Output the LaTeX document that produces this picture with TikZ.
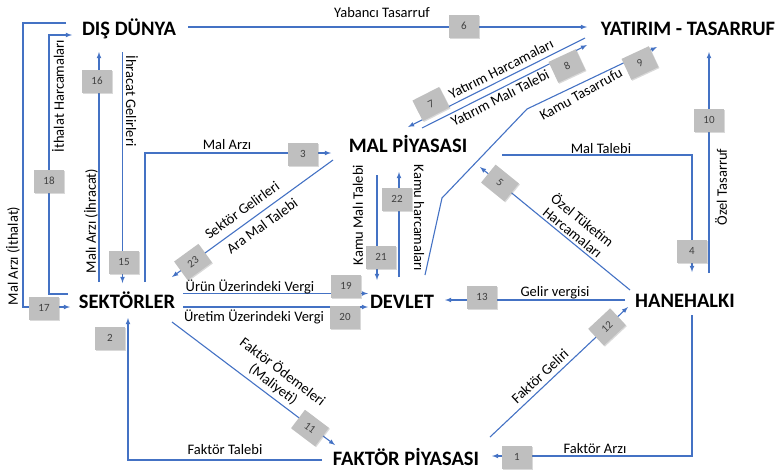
\documentclass[tikz,border=0pt]{standalone}
\usepackage{fontspec}
\setmainfont{Carlito}
\usetikzlibrary{shadows}

\definecolor{mavi}{HTML}{4472C4}

\begin{document}
\begin{tikzpicture}[x=1pt, y=-1pt,
		baslik/.style={anchor=base, inner sep=0pt, font=\fontsize{20.5}{24}\selectfont\bfseries},
		etiket/.style={inner sep=0pt, font=\fontsize{14.5}{15.5}\selectfont},
		kutu/.style={fill=gray!50, minimum width=30pt, minimum height=23pt, inner sep=0pt, text=black!75,
			font=\fontsize{11}{12}\selectfont, drop shadow={opacity=0.3, shadow xshift=1pt, shadow yshift=-1pt}},
		ok/.style={draw=mavi, line width=1.1pt, -latex}]
		
		\useasboundingbox (0,0) rectangle (779,472);
		
		\node (dis) at (129,35) [baslik] {DIŞ DÜNYA};
		\node (yat) at (688,35) [baslik] {YATIRIM - TASARRUF};
		\node (mal) at (408,152) [baslik] {MAL PİYASASI};
		\node (sek) at (127,308) [baslik] {SEKTÖRLER};
		\node (dev) at (402,308) [baslik] {DEVLET};
		\node (hane) at (685,307) [baslik] {HANEHALKI};
		\node (fak) at (406,465) [baslik] {FAKTÖR PİYASASI};
		
		\foreach \n/\xa/\ya/\xb/\yb in {1/692/315/492/456, 2/322/460/128/318, 3/145/282/331/153, 4/502/155/692/272,
			5/630/290/480/167, 6/188/27/587/27, 7/585/38/408/127, 8/422/128/587/45, 9/425/275/657/47,
			10/709/273/709/52, 11/172/322/335/445, 12/490/437/628/307, 13/625/300/445/300,
			15/122.5/52/122.5/283, 16/99/282/99/52, 17/66/23/70/307, 18/68/294/72/35,
			19/183/293.5/368/293.5, 20/183/307/368/307, 21/377/175/377/280, 22/399/277/399/172, 23/333/160/172/277} {
			\coordinate (a\n) at (\xa,\ya);
			\coordinate (b\n) at (\xb,\yb);
		}
		\coordinate (k17) at (23,307);
		\coordinate (k18) at (49,35);
		\coordinate (k9a) at (442,198);
		\coordinate (k9b) at (527,109);
		
		\draw[ok] (a1) |- (b1);
		\draw[ok] (a2) -| (b2);
		\draw[ok] (a3) |- (b3);
		\draw[ok] (a4) -| (b4);
		\foreach \n in {5,6,7,8,10,11,12,13,15,16,19,20,21,22,23} {
			\draw[ok] (a\n) -- (b\n);
		}
		\draw[ok] (a9) -- (k9a) -- (k9b) -- (b9);
		\draw[ok] (a17) -| (k17) -- (b17);
		\draw[ok] (a18) -| (k18) -- (b18);
		
		\node (l6) at (382,17.5) [etiket, anchor=base] {Yabancı Tasarruf};
		\node (l3) at (227,149) [etiket, anchor=base] {Mal Arzı};
		\node (l4) at (601,153) [etiket, anchor=base] {Mal Talebi};
		\node (l19) at (250,291) [etiket, anchor=base] {Ürün Üzerindeki Vergi};
		\node (l20) at (254,321) [etiket, anchor=base] {Üretim Üzerindeki Vergi};
		\node (l13) at (555,296) [etiket, anchor=base] {Gelir vergisi};
		\node (l2) at (225,454) [etiket, anchor=base] {Faktör Talebi};
		\node (l1) at (595,453) [etiket, anchor=base] {Faktör Arzı};
		
		\node (l17) at (13,256) [etiket, rotate=90] {Mal Arzı (İthalat)};
		\node (l18) at (58,96) [etiket, rotate=90] {İthalat Harcamaları};
		\node (l16) at (91,221) [etiket, rotate=90] {Malı Arzı (İhracat)};
		\node (l15) at (132,101) [etiket, rotate=-90] {İhracat Gelirleri};
		\node (l21) at (358,215) [etiket, rotate=90] {Kamu Malı Talebi};
		\node (l22) at (419,218) [etiket, rotate=-90] {Kamu harcamaları};
		\node (l10) at (721,187) [etiket, rotate=90] {Özel Tasarruf};
		
		\node (l23a) at (242,210) [etiket, rotate=36] {Sektör Gelirleri};
		\node (l23b) at (262,226) [etiket, rotate=36] {Ara Mal Talebi};
		\node (l7) at (501,69) [etiket, rotate=27] {Yatırım Harcamaları};
		\node (l8) at (500,98) [etiket, rotate=27] {Yatırım Malı Talebi};
		\node (l9) at (581,94) [etiket, rotate=29] {Kamu Tasarrufu};
		\node (l5) at (578,226) [etiket, rotate=-39, align=center] {Özel Tüketim\\Harcamaları};
		\node (l11) at (278,378) [etiket, rotate=-37, align=center] {Faktör Ödemeleri\\(Maliyeti)};
		\node (l12) at (540,376) [etiket, rotate=43] {Faktör Geliri};
		
		\foreach \n/\x/\y in {1/517/457, 2/110/338, 3/303/154, 4/692/251, 6/464/26, 10/709/120, 13/482/297,
			15/124/262, 16/97/81, 17/44/308, 18/49/181, 19/346/286, 20/345/317, 21/381/257, 22/397/199} {
			\node (n\n) at (\x,\y) [kutu] {\n};
		}
		\foreach \n/\x/\y/\a in {5/500/183/-39, 7/431/104/27, 8/567/66/25, 9/640/63/25, 11/310/428/-37,
			12/607/327/43, 23/193/262/36} {
			\node (n\n) at (\x,\y) [kutu, rotate=\a] {\n};
		}
		
	\end{tikzpicture}
\end{document}
